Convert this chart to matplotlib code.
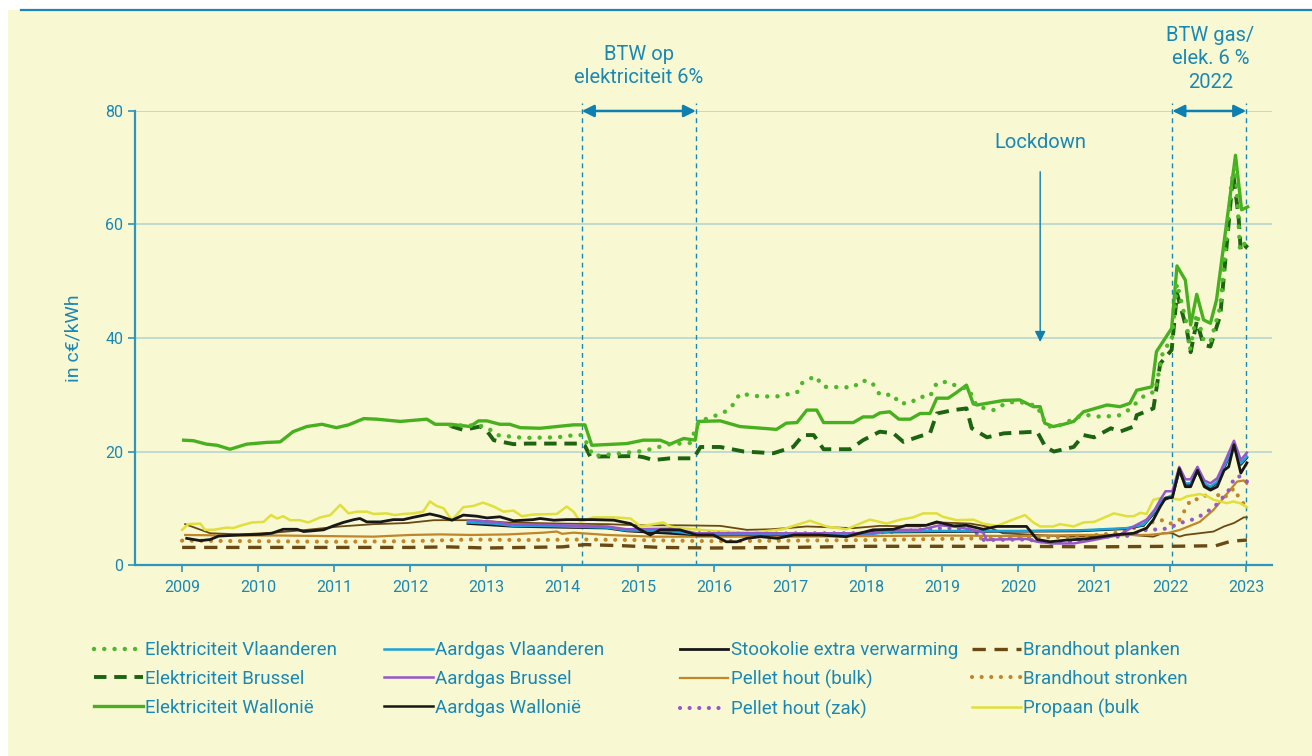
import matplotlib
matplotlib.use("Agg")
import matplotlib.pyplot as plt
from matplotlib.lines import Line2D

# colours
BG_COLOR = "#f8f8d3"
TEXT_COLOR = "#1a88b4"
AXIS_COLOR = "#2f95bb"
GRID_COLOR = "#b6d6cf"
GREEN_LIGHT = "#4fb82a"
GREEN_SOLID = "#47b01e"
GREEN_DARK = "#1c6410"
BLUE = "#19a3d8"
PURPLE = "#9558c8"
BLACK = "#171717"
GOLD = "#c0862a"
BROWN = "#6b4912"
YELLOW = "#e0df3c"

plt.rcParams["font.family"] = ["Roboto", "DejaVu Sans"]

# data (c€/kWh)
ELEC_VLA = [(2012.53, 24.6), (2012.8, 24.6), (2013.0, 24.4), (2013.14, 22.9), (2013.49, 22.4),
            (2013.93, 22.5), (2014.17, 22.9), (2014.27, 22.9), (2014.41, 19.2), (2015.07, 20.1),
            (2015.42, 21.3), (2015.68, 21.5), (2015.8, 25.3), (2016.12, 26.8), (2016.23, 27.9),
            (2016.34, 30.2), (2016.6, 29.7), (2016.82, 29.7), (2017.09, 30.4), (2017.15, 32.0),
            (2017.33, 33.3), (2017.44, 31.4), (2017.83, 31.3), (2017.94, 32.5), (2018.07, 32.3),
            (2018.18, 30.0), (2018.36, 30.0), (2018.43, 28.5), (2018.58, 28.5), (2018.69, 29.6),
            (2018.84, 29.7), (2018.93, 32.1), (2019.08, 32.3), (2019.19, 31.5), (2019.35, 31.0),
            (2019.46, 27.9), (2019.68, 27.3), (2019.85, 28.6), (2020.0, 28.8), (2020.25, 28.0),
            (2020.38, 24.4), (2020.51, 24.4), (2020.86, 26.5), (2021.1, 26.1), (2021.34, 26.4),
            (2021.45, 27.3), (2021.69, 30.2), (2021.8, 30.5), (2021.91, 37.9), (2022.02, 39.5),
            (2022.09, 49.6), (2022.22, 42.3), (2022.26, 37.9), (2022.35, 44.3), (2022.44, 39.6),
            (2022.53, 39.3), (2022.66, 45.5), (2022.81, 67.8), (2022.86, 70.2), (2022.92, 55.5),
            (2023.03, 57.6)]

ELEC_BRU = [(2012.53, 24.5), (2012.7, 23.8), (2012.92, 24.4), (2013.0, 23.8), (2013.1, 22.0),
            (2013.36, 21.3), (2013.54, 21.4), (2013.89, 21.4), (2014.24, 21.4), (2014.3, 21.0),
            (2014.37, 19.1), (2014.98, 19.2), (2015.07, 19.0), (2015.2, 18.5), (2015.42, 18.8),
            (2015.73, 18.8), (2015.82, 20.8), (2016.08, 20.8), (2016.39, 20.0), (2016.78, 19.7),
            (2017.04, 20.8), (2017.17, 22.9), (2017.31, 22.9), (2017.44, 20.4), (2017.79, 20.4),
            (2017.96, 22.0), (2018.18, 23.5), (2018.36, 23.2), (2018.49, 21.7), (2018.71, 22.7),
            (2018.84, 23.2), (2018.93, 26.7), (2019.15, 27.3), (2019.32, 27.6), (2019.39, 24.1),
            (2019.59, 22.5), (2019.81, 23.2), (2020.25, 23.5), (2020.36, 20.8), (2020.47, 20.0),
            (2020.73, 20.8), (2020.86, 22.9), (2021.0, 22.5), (2021.22, 24.1), (2021.34, 23.5),
            (2021.52, 24.4), (2021.56, 26.4), (2021.78, 27.6), (2021.87, 35.5), (2022.02, 37.9),
            (2022.09, 47.9), (2022.22, 41.4), (2022.27, 37.5), (2022.35, 42.9), (2022.44, 38.8),
            (2022.53, 38.5), (2022.66, 44.0), (2022.83, 69.0), (2022.9, 61.4), (2022.93, 55.2),
            (2023.02, 56.4)]

ELEC_WAL = [(2009.02, 22.0), (2009.15, 21.9), (2009.32, 21.3), (2009.46, 21.1), (2009.63, 20.4),
            (2009.85, 21.3), (2010.11, 21.6), (2010.29, 21.7), (2010.46, 23.5), (2010.64, 24.4),
            (2010.84, 24.8), (2011.03, 24.2), (2011.19, 24.7), (2011.39, 25.8), (2011.56, 25.7),
            (2011.87, 25.3), (2012.22, 25.7), (2012.33, 24.8), (2012.53, 24.8), (2012.79, 24.4),
            (2012.9, 25.4), (2013.01, 25.4), (2013.18, 24.8), (2013.31, 24.8), (2013.45, 24.2),
            (2013.71, 24.1), (2013.93, 24.4), (2014.15, 24.7), (2014.3, 24.7), (2014.39, 21.1),
            (2014.85, 21.4), (2015.07, 22.0), (2015.29, 22.0), (2015.42, 21.3), (2015.6, 22.3),
            (2015.75, 22.0), (2015.79, 25.3), (2016.08, 25.4), (2016.34, 24.4), (2016.82, 23.9),
            (2016.95, 25.0), (2017.09, 25.1), (2017.22, 27.3), (2017.35, 27.3), (2017.44, 25.1),
            (2017.83, 25.1), (2017.96, 26.1), (2018.09, 26.1), (2018.18, 26.8), (2018.31, 27.0),
            (2018.43, 25.7), (2018.58, 25.7), (2018.71, 26.7), (2018.84, 26.7), (2018.93, 29.4),
            (2019.08, 29.4), (2019.19, 30.4), (2019.32, 31.7), (2019.41, 28.4), (2019.46, 28.2),
            (2019.81, 29.0), (2020.02, 29.1), (2020.2, 27.9), (2020.29, 27.9), (2020.35, 25.0),
            (2020.46, 24.4), (2020.6, 24.8), (2020.73, 25.3), (2020.86, 27.0), (2021.17, 28.2),
            (2021.34, 27.9), (2021.47, 28.5), (2021.56, 30.8), (2021.76, 31.4), (2021.82, 37.6),
            (2022.02, 41.7), (2022.09, 52.7), (2022.2, 50.2), (2022.27, 42.3), (2022.35, 47.7),
            (2022.44, 43.2), (2022.53, 42.6), (2022.61, 46.7), (2022.86, 72.2), (2022.94, 62.6),
            (2023.02, 63.1)]

GAS_VLA = [(2012.76, 7.5), (2013.1, 7.3), (2013.36, 6.9), (2013.71, 6.9), (2014.59, 6.6),
           (2014.85, 6.1), (2015.42, 6.0), (2015.77, 5.4), (2016.5, 5.4), (2017.4, 5.5),
           (2018.1, 5.5), (2018.3, 5.9), (2018.9, 6.0), (2019.4, 6.0), (2020.0, 6.0),
           (2020.8, 6.1), (2021.43, 6.5), (2021.65, 7.1), (2021.8, 9.5), (2021.89, 11.5),
           (2022.03, 12.3), (2022.12, 16.7), (2022.2, 14.4), (2022.27, 14.4), (2022.36, 16.7),
           (2022.45, 14.4), (2022.53, 13.8), (2022.62, 14.7), (2022.71, 17.3), (2022.84, 21.3),
           (2022.93, 17.9), (2023.01, 19.1)]

GAS_BRU = [(2012.76, 7.9), (2013.1, 7.6), (2013.36, 7.1), (2013.71, 7.1), (2014.59, 6.8),
           (2014.85, 6.3), (2015.42, 6.4), (2015.77, 5.6), (2016.52, 5.6), (2017.39, 5.6),
           (2018.09, 5.6), (2018.27, 6.2), (2018.71, 6.2), (2018.97, 7.0), (2019.15, 6.8),
           (2019.41, 6.2), (2019.54, 5.7), (2019.59, 4.4), (2019.72, 4.5), (2020.11, 4.6),
           (2020.25, 4.1), (2020.46, 3.8), (2020.73, 3.8), (2020.99, 4.4), (2021.33, 5.3),
           (2021.52, 6.8), (2021.69, 8.0), (2021.8, 9.8), (2021.87, 11.5), (2021.94, 13.0),
           (2022.03, 13.0), (2022.12, 17.3), (2022.2, 15.1), (2022.27, 15.1), (2022.36, 17.3),
           (2022.45, 14.9), (2022.53, 14.4), (2022.62, 15.3), (2022.71, 17.9), (2022.84, 21.9),
           (2022.93, 18.5), (2023.01, 19.8)]

GAS_WAL = [(2012.76, 7.3), (2013.36, 6.8), (2014.59, 6.5), (2014.85, 6.0), (2015.77, 5.3),
           (2017.4, 5.4), (2018.3, 5.8), (2019.4, 5.9), (2020.8, 6.0), (2021.43, 6.4),
           (2021.65, 7.0), (2021.8, 9.3), (2021.89, 11.3), (2022.03, 12.1), (2022.12, 16.5),
           (2022.2, 14.2), (2022.27, 14.2), (2022.36, 16.5), (2022.45, 14.2), (2022.53, 13.6),
           (2022.62, 14.5), (2022.71, 17.1), (2022.84, 21.1), (2022.93, 17.7), (2023.01, 18.9)]

STOOKOLIE = [(2009.06, 4.7), (2009.24, 4.3), (2009.37, 4.5), (2009.48, 5.1), (2009.76, 5.3),
             (2010.03, 5.4), (2010.18, 5.6), (2010.33, 6.3), (2010.51, 6.3), (2010.6, 5.9),
             (2010.86, 6.2), (2010.99, 6.9), (2011.12, 7.5), (2011.26, 8.0), (2011.34, 8.2),
             (2011.43, 7.6), (2011.61, 7.6), (2011.78, 8.0), (2011.91, 8.0), (2012.04, 8.4),
             (2012.26, 9.0), (2012.39, 8.6), (2012.55, 7.9), (2012.7, 8.8), (2012.88, 8.6),
             (2013.01, 8.3), (2013.18, 8.5), (2013.36, 7.8), (2013.62, 8.0), (2013.71, 8.2),
             (2013.89, 7.9), (2014.06, 8.0), (2014.41, 8.0), (2014.68, 7.9), (2014.9, 7.3),
             (2015.03, 6.2), (2015.16, 5.3), (2015.29, 6.2), (2015.55, 6.2), (2015.77, 5.3),
             (2015.99, 5.3), (2016.16, 4.1), (2016.3, 4.1), (2016.43, 4.7), (2016.61, 5.0),
             (2016.83, 4.7), (2017.05, 5.3), (2017.39, 5.3), (2017.74, 5.0), (2018.09, 6.2),
             (2018.36, 6.3), (2018.53, 7.0), (2018.79, 7.0), (2018.93, 7.6), (2019.15, 6.9),
             (2019.32, 7.0), (2019.54, 6.3), (2019.72, 6.8), (2020.11, 6.8), (2020.25, 4.5),
             (2020.42, 4.1), (2020.64, 4.4), (2020.9, 4.6), (2021.26, 5.3), (2021.52, 5.6),
             (2021.69, 6.5), (2021.78, 8.0), (2021.87, 10.3), (2021.94, 11.8), (2022.03, 11.9),
             (2022.12, 17.0), (2022.2, 13.8), (2022.27, 13.8), (2022.36, 16.7), (2022.45, 13.8),
             (2022.53, 13.2), (2022.62, 13.8), (2022.71, 16.7), (2022.77, 17.3), (2022.84, 21.2),
             (2022.93, 16.2), (2023.01, 18.0)]

PELLET_BULK = [(2009.04, 5.3), (2009.6, 5.2), (2010.3, 5.2), (2010.9, 5.1), (2011.52, 5.0),
               (2012.0, 5.3), (2012.39, 5.4), (2012.8, 5.3), (2013.3, 5.4), (2013.75, 5.7),
               (2013.93, 5.9), (2014.0, 5.5), (2014.15, 5.7), (2014.59, 5.3), (2015.2, 5.0),
               (2016.0, 5.0), (2017.0, 5.0), (2018.0, 5.1), (2019.0, 5.2), (2020.0, 5.1),
               (2020.8, 5.3), (2021.26, 5.3), (2021.7, 5.3), (2021.96, 5.6), (2022.13, 6.2),
               (2022.39, 7.6), (2022.57, 9.7), (2022.75, 12.6), (2022.88, 14.7), (2022.97, 14.9),
               (2023.01, 14.3)]

PELLET_ZAK = [(2015.3, 6.0), (2015.8, 5.6), (2016.5, 5.5), (2017.2, 5.6), (2018.0, 5.6),
              (2018.5, 6.0), (2019.0, 6.5), (2019.4, 6.3), (2019.55, 4.4), (2020.11, 4.5),
              (2020.46, 3.9), (2020.9, 4.4), (2021.1, 5.0), (2021.4, 5.0), (2021.69, 6.2),
              (2021.89, 6.3), (2021.98, 6.5), (2022.13, 7.4), (2022.29, 8.0), (2022.38, 8.5),
              (2022.48, 9.4), (2022.57, 10.0), (2022.66, 11.5), (2022.75, 12.6), (2022.8, 14.1),
              (2022.86, 15.6), (2022.94, 15.6), (2023.01, 14.7)]

HOUT_PLANKEN = [(2009.0, 3.1), (2010.0, 3.1), (2011.0, 3.1), (2012.0, 3.1), (2012.5, 3.2),
                (2013.0, 3.0), (2013.5, 3.1), (2014.0, 3.2), (2014.3, 3.6), (2014.8, 3.4),
                (2015.3, 3.1), (2016.0, 3.0), (2017.0, 3.1), (2018.0, 3.3), (2019.0, 3.3),
                (2020.0, 3.3), (2021.0, 3.2), (2022.0, 3.3), (2022.6, 3.4), (2022.8, 4.2),
                (2023.01, 4.4)]

HOUT_STRONKEN = [(2009.0, 4.3), (2010.0, 4.2), (2011.0, 4.1), (2012.0, 4.2), (2012.8, 4.5),
                 (2013.5, 4.4), (2014.3, 4.5), (2015.0, 4.4), (2016.0, 4.2), (2017.0, 4.3),
                 (2018.0, 4.4), (2019.0, 4.6), (2020.0, 4.8), (2020.8, 5.0), (2021.26, 5.6),
                 (2021.45, 6.2), (2021.78, 7.6), (2021.9, 7.9), (2022.0, 7.3), (2022.12, 7.9),
                 (2022.22, 10.3), (2022.27, 11.5), (2022.36, 11.6), (2022.45, 12.0), (2022.53, 13.5),
                 (2022.6, 12.6), (2022.7, 11.7), (2022.84, 13.5), (2022.92, 11.5), (2023.01, 10.2)]

PROPAAN = [(2009.0, 6.2), (2009.08, 7.2), (2009.24, 7.3), (2009.3, 6.2), (2009.41, 6.2),
           (2009.59, 6.6), (2009.67, 6.5), (2009.76, 6.9), (2009.92, 7.5), (2010.07, 7.6),
           (2010.17, 8.8), (2010.25, 8.2), (2010.33, 8.6), (2010.42, 7.9), (2010.55, 7.9),
           (2010.66, 7.5), (2010.82, 8.4), (2010.95, 8.8), (2011.08, 10.6), (2011.19, 9.1),
           (2011.3, 9.4), (2011.43, 9.4), (2011.52, 9.0), (2011.69, 9.1), (2011.8, 8.8),
           (2011.91, 9.0), (2012.04, 9.1), (2012.17, 9.4), (2012.26, 11.2), (2012.35, 10.4),
           (2012.44, 10.0), (2012.55, 7.9), (2012.7, 10.2), (2012.83, 10.4), (2012.96, 11.0),
           (2013.1, 10.3), (2013.23, 9.4), (2013.36, 9.6), (2013.47, 8.6), (2013.62, 8.9),
           (2013.93, 9.0), (2014.06, 10.3), (2014.15, 9.4), (2014.24, 7.6), (2014.41, 8.4),
           (2014.68, 8.4), (2014.9, 8.2), (2015.03, 6.8), (2015.33, 7.5), (2015.42, 6.8),
           (2015.55, 6.5), (2016.0, 6.0), (2016.5, 5.7), (2016.9, 6.3), (2017.26, 7.8),
           (2017.48, 6.8), (2017.74, 6.3), (2017.92, 7.3), (2018.05, 8.0), (2018.27, 7.3),
           (2018.45, 8.0), (2018.62, 8.4), (2018.75, 9.1), (2018.93, 9.1), (2019.01, 8.5),
           (2019.19, 7.9), (2019.41, 8.0), (2019.54, 7.3), (2019.72, 6.9), (2019.93, 8.0),
           (2020.09, 8.8), (2020.2, 7.5), (2020.29, 6.8), (2020.46, 6.8), (2020.55, 7.2),
           (2020.73, 6.8), (2020.86, 7.5), (2021.0, 7.6), (2021.26, 9.1), (2021.43, 8.6),
           (2021.52, 8.6), (2021.61, 9.2), (2021.69, 9.0), (2021.78, 11.5), (2021.87, 11.8),
           (2022.0, 11.8), (2022.13, 11.5), (2022.22, 12.1), (2022.39, 12.5), (2022.48, 12.2),
           (2022.57, 11.5), (2022.75, 10.9), (2022.83, 11.2), (2022.92, 10.9), (2023.01, 10.2)]

# thin brown line without legend entry
BROWN_LINE = [(2009.04, 7.2), (2009.37, 5.6), (2009.76, 5.4), (2010.2, 5.7), (2010.64, 6.2),
              (2011.08, 6.8), (2011.52, 7.2), (2011.96, 7.4), (2012.31, 7.9), (2012.83, 7.9),
              (2013.27, 7.5), (2014.0, 7.3), (2014.6, 7.2), (2015.0, 7.0), (2015.55, 7.0),
              (2016.08, 6.9), (2016.43, 6.2), (2016.74, 6.3), (2016.96, 6.5), (2017.22, 6.8),
              (2017.83, 6.5), (2018.18, 6.9), (2018.71, 6.8), (2018.97, 7.5), (2019.37, 7.3),
              (2019.59, 6.8), (2019.8, 5.6), (2020.25, 5.3), (2020.68, 5.0), (2021.12, 5.1),
              (2021.48, 5.3), (2021.78, 5.0), (2021.9, 5.6), (2022.03, 5.6), (2022.12, 5.0),
              (2022.2, 5.3), (2022.57, 5.9), (2022.71, 6.8), (2022.84, 7.4), (2022.97, 8.4),
              (2023.01, 8.4)]

YEARS = list(range(2009, 2024))
Y_TICKS = [0, 20, 40, 60, 80]
BTW_ELEC = (2014.26, 2015.76)
BTW_GAS = (2022.03, 2023.0)
LOCKDOWN_X = 2020.29

DOT = (0, (0.01, 2.3))
DASH_GREEN = (0, (3.2, 2.0))
DASH_BROWN = (0, (4.0, 2.6))

# (data, label, color, lw, linestyle, zorder)
SERIES = [
    (BROWN_LINE, None, BROWN, 1.3, "-", 2),
    (HOUT_PLANKEN, "Brandhout planken", BROWN, 2.4, DASH_BROWN, 3),
    (HOUT_STRONKEN, "Brandhout stronken", GOLD, 3.0, DOT, 3),
    (PELLET_BULK, "Pellet hout (bulk)", GOLD, 1.6, "-", 3),
    (PROPAAN, "Propaan (bulk", YELLOW, 1.8, "-", 3),
    (PELLET_ZAK, "Pellet hout (zak)", PURPLE, 3.0, DOT, 4),
    (GAS_WAL, "Aardgas Wallonië", BLACK, 1.8, "-", 4),
    (GAS_VLA, "Aardgas Vlaanderen", BLUE, 1.8, "-", 5),
    (GAS_BRU, "Aardgas Brussel", PURPLE, 1.8, "-", 6),
    (STOOKOLIE, "Stookolie extra verwarming", BLACK, 2.0, "-", 7),
    (ELEC_BRU, "Elektriciteit Brussel", GREEN_DARK, 2.8, DASH_GREEN, 8),
    (ELEC_WAL, "Elektriciteit Wallonië", GREEN_SOLID, 2.4, "-", 9),
    (ELEC_VLA, "Elektriciteit Vlaanderen", GREEN_LIGHT, 3.2, DOT, 10),
]

LEGEND_COLUMNS = [
    ["Elektriciteit Vlaanderen", "Elektriciteit Brussel", "Elektriciteit Wallonië"],
    ["Aardgas Vlaanderen", "Aardgas Brussel", "Aardgas Wallonië"],
    ["Stookolie extra verwarming", "Pellet hout (bulk)", "Pellet hout (zak)"],
    ["Brandhout planken", "Brandhout stronken", "Propaan (bulk"],
]
LEGEND_X = [0.072, 0.293, 0.518, 0.741]

fig = plt.figure(figsize=(13.12, 7.56), dpi=100, facecolor="white")
fig.patches.append(plt.Rectangle((0.006, 0), 0.994, 0.987, transform=fig.transFigure,
                                 facecolor=BG_COLOR, edgecolor="none", zorder=-10))
fig.lines.append(Line2D([0.016, 1.0], [0.987, 0.987], transform=fig.transFigure,
                        color=TEXT_COLOR, lw=1.6))

ax = fig.add_axes([0.1029, 0.2526, 0.8666, 0.6006])
ax.set_facecolor(BG_COLOR)
ax.patch.set_alpha(0)

handles = {}
for data, label, color, lw, ls, z in SERIES:
    xs = [p[0] for p in data]
    ys = [p[1] for p in data]
    (line,) = ax.plot(xs, ys, color=color, lw=lw, linestyle=ls, zorder=z,
                      dash_capstyle="round" if ls == DOT else "butt",
                      solid_joinstyle="round")
    if label:
        handles[label] = line

ax.set_xlim(2008.38, 2023.34)
ax.set_ylim(0, 80)
ax.set_xticks(YEARS)
ax.set_yticks(Y_TICKS)
ax.grid(axis="y", color=GRID_COLOR, lw=1.2, zorder=0)
ax.set_axisbelow(True)
for side in ["top", "right"]:
    ax.spines[side].set_visible(False)
for side in ["left", "bottom"]:
    ax.spines[side].set_color(AXIS_COLOR)
    ax.spines[side].set_linewidth(1.6)
ax.tick_params(colors=AXIS_COLOR, labelcolor=TEXT_COLOR, labelsize=11.5, length=5, width=1.2)
ax.tick_params(axis="x", pad=6)
ax.set_ylabel("in c€/kWh", color=TEXT_COLOR, fontsize=14, labelpad=16)

# BTW / lockdown annotations
for x in list(BTW_ELEC) + list(BTW_GAS):
    ax.plot([x, x], [0, 81.4], color=TEXT_COLOR, lw=1.0, linestyle=(0, (3.5, 3)),
            clip_on=False, zorder=1)
for x0, x1 in [BTW_ELEC, BTW_GAS]:
    ax.annotate("", xy=(x1, 80), xytext=(x0, 80),
                arrowprops=dict(arrowstyle="<|-|>", color="#0d7fb0", lw=1.8,
                                mutation_scale=18, shrinkA=0, shrinkB=0),
                annotation_clip=False)
ax.text(2015.01, 87.9, "BTW op\nelektriciteit 6%", ha="center", va="center",
        color=TEXT_COLOR, fontsize=14.5, linespacing=1.3)
ax.text(2022.53, 89.2, "BTW gas/\nelek. 6 %\n2022", ha="center", va="center",
        color=TEXT_COLOR, fontsize=14.5, linespacing=1.3)
ax.annotate("", xy=(LOCKDOWN_X, 39.3), xytext=(LOCKDOWN_X, 69.3),
            arrowprops=dict(arrowstyle="-|>", color="#0d7fb0", lw=1.0,
                            mutation_scale=16, shrinkA=0, shrinkB=0))
ax.text(LOCKDOWN_X, 74.4, "Lockdown", ha="center", va="center", color=TEXT_COLOR, fontsize=14.5)

for col_x, labels in zip(LEGEND_X, LEGEND_COLUMNS):
    leg = fig.legend([handles[l] for l in labels], labels, loc="upper left",
                     bbox_to_anchor=(col_x, 0.152), frameon=False, fontsize=13.5,
                     handlelength=2.6, handletextpad=0.12, labelspacing=0.58,
                     borderpad=0, borderaxespad=0)
    for t in leg.get_texts():
        t.set_color(TEXT_COLOR)

fig.savefig("out.png", dpi=100, facecolor="white")
